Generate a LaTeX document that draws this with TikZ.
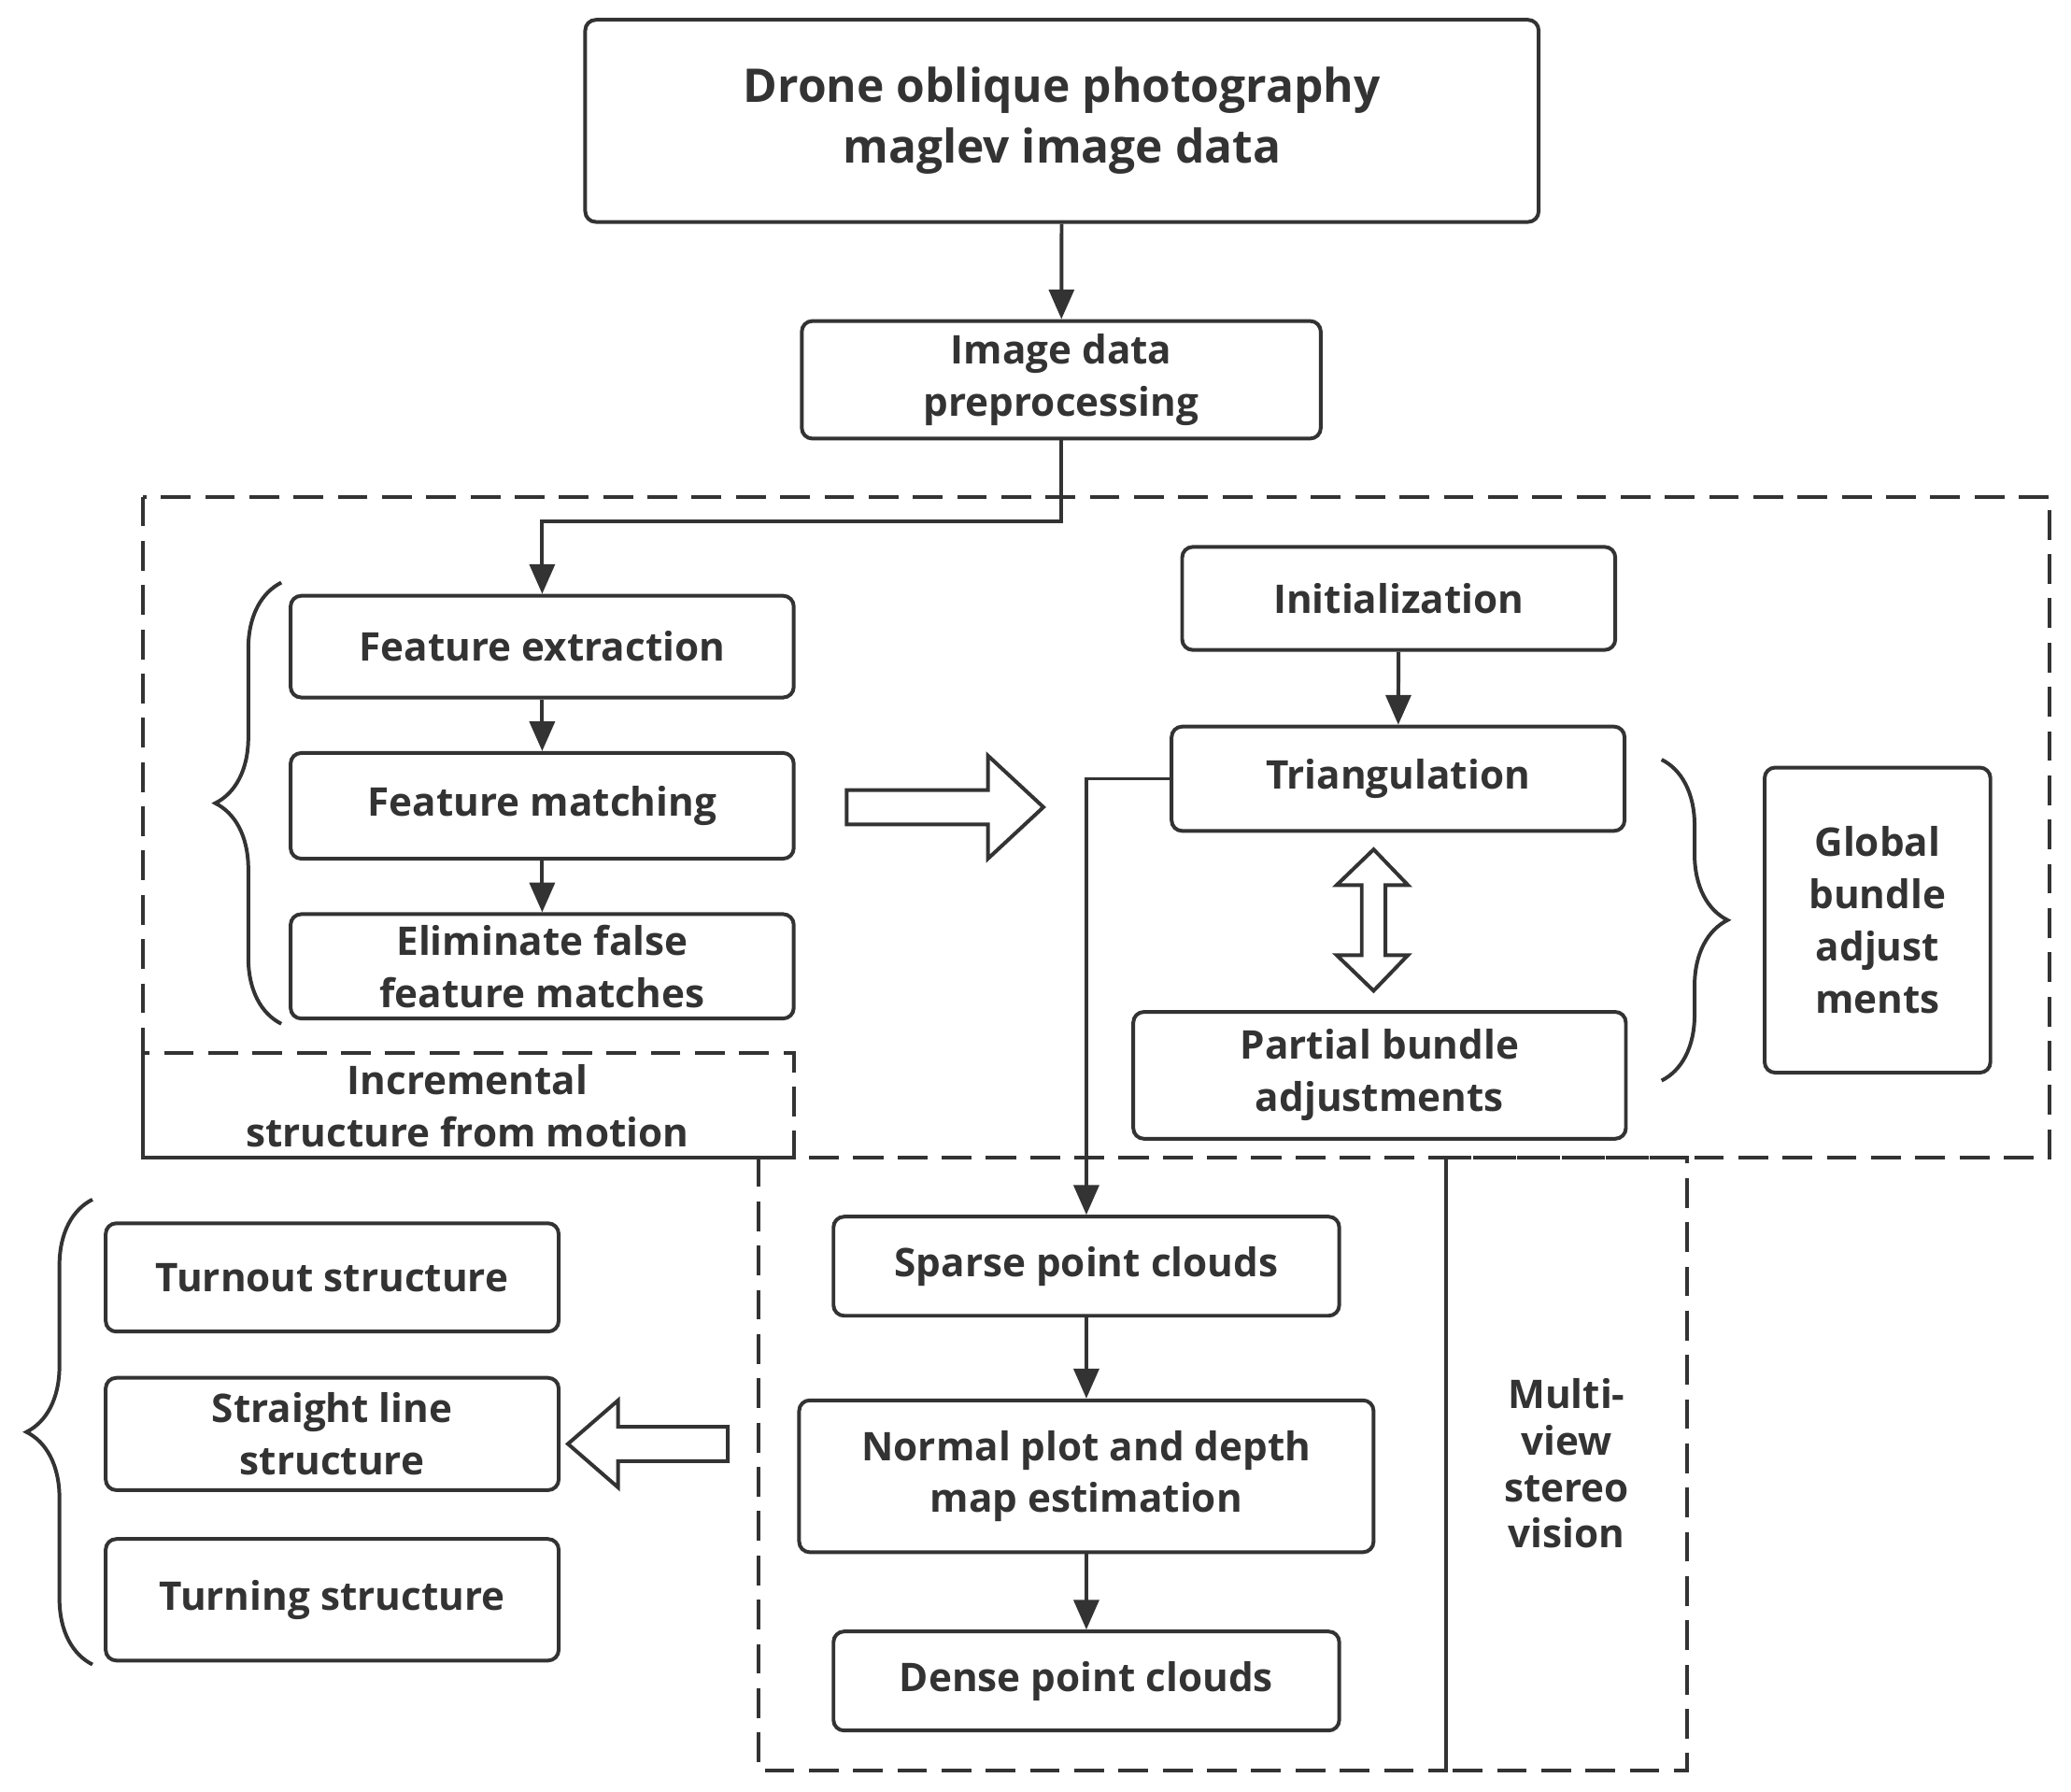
\documentclass[tikz,border=0pt]{standalone}
\usepackage{fontspec}
\setmainfont{Open Sans}
\usetikzlibrary{arrows.meta,decorations.pathreplacing}
\definecolor{ink}{HTML}{333333}
\begin{document}
\begin{tikzpicture}[x=0.02cm,y=-0.02cm,
  line width=1.6pt, draw=ink,
  box/.style={draw=ink,line width=1.6pt,rounded corners=0.16cm,align=center,inner sep=0pt,
     font=\fontsize{17}{22.5}\selectfont\bfseries,text=ink},
  arr/.style={draw=ink,line width=1.6pt,-{Triangle[length=0.45cm,width=0.38cm]}},
  grp/.style={draw=ink,line width=1.6pt,dash pattern=on 0.45cm off 0.22cm},
  lbl/.style={align=center,font=\fontsize{17}{22.5}\selectfont\bfseries,text=ink},
  br/.style={draw=ink,line width=1.6pt,decorate,decoration={brace,amplitude=1.0cm}}]
\useasboundingbox (0,0) rectangle (1568,1356);
% dashed groups
\draw[grp] (108,376) rectangle (1552,876);
\draw[grp] (108,797) rectangle (601,876);
\draw[grp] (574,876) rectangle (1095,1340);
\draw[grp] (1095,876) rectangle (1277,1340);
% boxes
\node[box,minimum width=14.44cm,minimum height=3.06cm,font=\fontsize{20}{26}\selectfont\bfseries] (top) at (804,91.5) {Drone oblique photography\\maglev image data};
\node[box,minimum width=7.86cm,minimum height=1.78cm] (pre) at (803.5,287.5) {Image data\\preprocessing};
\node[box,minimum width=7.62cm,minimum height=1.54cm] (fe) at (410.5,489.5) {Feature extraction};
\node[box,minimum width=7.62cm,minimum height=1.6cm] (fm) at (410.5,610) {Feature matching};
\node[box,minimum width=7.62cm,minimum height=1.58cm] (el) at (410.5,731.5) {Eliminate false\\feature matches};
\node[box,minimum width=6.56cm,minimum height=1.56cm] (init) at (1059,453) {Initialization};
\node[box,minimum width=6.86cm,minimum height=1.58cm] (tri) at (1058.5,589.5) {Triangulation};
\node[box,minimum width=7.46cm,minimum height=1.92cm] (pb) at (1044.5,814) {Partial bundle\\adjustments};
\node[box,minimum width=3.42cm,minimum height=4.62cm] (gb) at (1421.5,696.5) {Global\\bundle\\adjust\\ments};
\node[box,minimum width=7.66cm,minimum height=1.5cm] (sp) at (822.5,958.5) {Sparse point clouds};
\node[box,minimum width=8.7cm,minimum height=2.3cm] (no) at (822.5,1117.5) {Normal plot and depth\\map estimation};
\node[box,minimum width=7.66cm,minimum height=1.5cm] (de) at (822.5,1272.5) {Dense point clouds};
\node[box,minimum width=6.86cm,minimum height=1.64cm] (to) at (251.5,967) {Turnout structure};
\node[box,minimum width=6.86cm,minimum height=1.7cm] (st) at (251.5,1085.5) {Straight line\\structure};
\node[box,minimum width=6.86cm,minimum height=1.84cm] (tu) at (251.5,1211) {Turning structure};
\node[lbl] (inc) at (354,837) {Incremental\\structure from motion};
\node[lbl,font=\fontsize{17}{20}\selectfont\bfseries] (mv) at (1186,1108) {Multi-\\view\\stereo\\vision};
% connectors
\draw[arr] (top) -- (pre);
\draw[arr] (pre.south) -- ++(0,61) -| (fe.north);
\draw[arr] (fe) -- (fm);
\draw[arr] (fm) -- (el);
\draw[arr] (init) -- (tri);
\draw[arr] (tri.west) -| (sp.north);
\draw[arr] (sp) -- (no);
\draw[arr] (no) -- (de);
% block arrows
\draw[fill=white] (641,598) -- (748,598) -- (748,572) -- (790,611) -- (748,650) -- (748,624) -- (641,624) -- cycle;
\draw[fill=white] (551,1080) -- (468,1080) -- (468,1060) -- (430,1093) -- (468,1126) -- (468,1106) -- (551,1106) -- cycle;
\draw[fill=white] (1040,643) -- (1066,670) -- (1049,670) -- (1049,723) -- (1066,723) -- (1040,750) -- (1012,723) -- (1031,723) -- (1031,670) -- (1012,670) -- cycle;
% braces
\draw[br] (213,775) -- (213,441);
\draw[br] (1258,575) -- (1258,818);
\draw[br] (70,1260) -- (70,908);
\end{tikzpicture}
\end{document}
